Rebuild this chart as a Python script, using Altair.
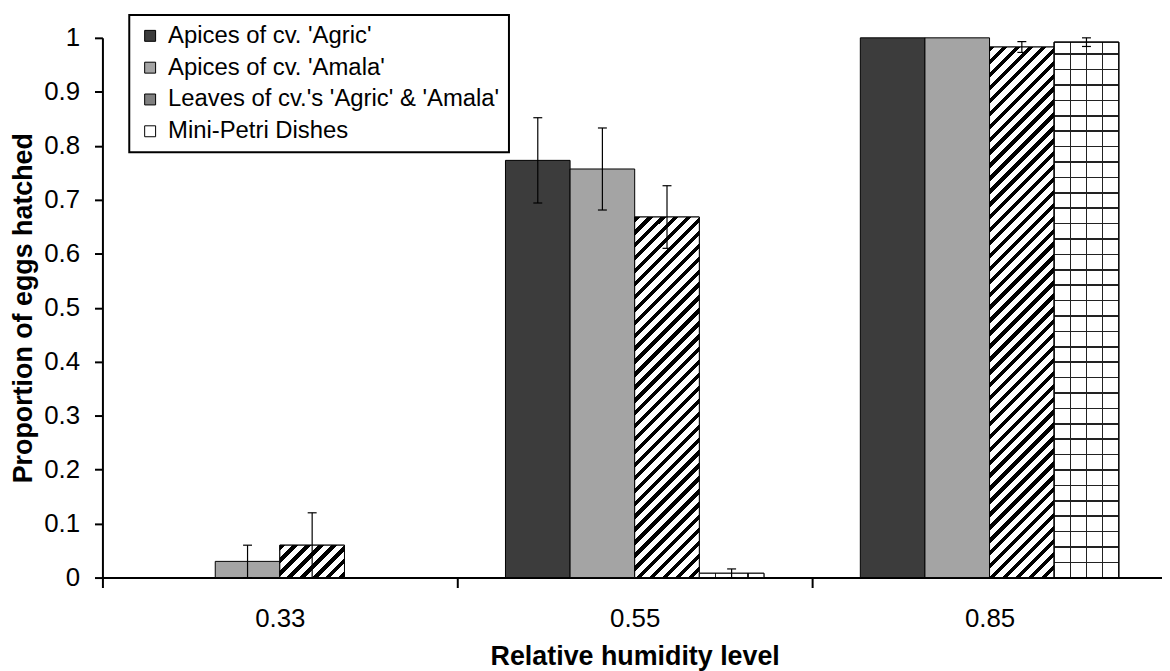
import math
import altair as alt
import pandas as pd

# ---------------- data ----------------
levels = ["0.33", "0.55", "0.85"]
series = [
    "Apices of cv. 'Agric'",
    "Apices of cv. 'Amala'",
    "Leaves of cv.'s 'Agric' & 'Amala'",
    "Mini-Petri Dishes",
]
agric = [0.0, 0.773, 1.0]
amala = [0.030, 0.757, 1.0]
leaves = [0.060, 0.668, 0.983]
mini = [0.0, 0.008, 0.992]
agric_err = [0.0, 0.079, 0.0]
amala_err = [0.030, 0.076, 0.0]
leaves_err = [0.060, 0.058, 0.010]
mini_err = [0.0, 0.008, 0.008]
y_ticks = [0, 0.1, 0.2, 0.3, 0.4, 0.5, 0.6, 0.7, 0.8, 0.9, 1]

values = [agric, amala, leaves, mini]
errors = [agric_err, amala_err, leaves_err, mini_err]
rows = []
for s, vals, errs in zip(series, values, errors):
    for lv, v, e in zip(levels, vals, errs):
        rows.append({"series": s, "level": lv, "value": v, "err": e,
                     "lo": max(v - e, 0), "hi": v + e})
df = pd.DataFrame(rows)

# ---------------- layout / style ----------------
FONT = "Liberation Sans"
PLOT_W = 1066
X_RANGE = 1071
PLOT_H = 543
BAR_W = X_RANGE / 3 / 5.4923
fills = ["#3c3c3c", "#a4a4a4", "#808080", "#ffffff"]

x_axis = alt.Axis(labelAngle=0, tickBand="extent", tickSize=10, labelPadding=18,
                  labelFontSize=26, titleFontSize=27, titlePadding=12)
y_axis = alt.Axis(values=y_ticks, format="~g", tickSize=8, labelPadding=15,
                  labelFontSize=26, titleFontSize=27, titlePadding=6)


def X():
    return alt.X("level:N", sort=levels,
                 scale=alt.Scale(domain=levels, range=[0, X_RANGE],
                                 paddingInner=0, paddingOuter=0),
                 axis=x_axis, title="Relative humidity level")


def XO():
    return alt.XOffset("series:N", sort=series,
                       scale=alt.Scale(domain=series, paddingInner=0, paddingOuter=0.746))


def Y(field):
    return alt.Y(field, type="quantitative",
                 scale=alt.Scale(domain=[0, 1], nice=False, zero=True),
                 axis=y_axis, title="Proportion of eggs hatched")


def r4(v):
    return round(v, 5)


def stripe_gradient(h):
    w = BAR_W
    L = w + h
    k = L / (w * w + h * h)
    period = 13.0
    dark = 0.42
    stops = []
    n = int(math.ceil(L / period))
    for i in range(n):
        a = min(i * period / L, 1)
        b = min((i + dark) * period / L, 1)
        c = min((i + 1) * period / L, 1)
        stops += [alt.GradientStop(offset=r4(a), color="#000000"),
                  alt.GradientStop(offset=r4(b), color="#000000"),
                  alt.GradientStop(offset=r4(b), color="#ffffff"),
                  alt.GradientStop(offset=r4(c), color="#ffffff")]
    return alt.LinearGradient(gradient="linear", stops=stops,
                              x1=0, y1=0, x2=r4(k * w), y2=r4(k * h))


def vgrid_gradient():
    w = BAR_W
    half = 0.8 / w
    stops = [alt.GradientStop(offset=0, color="#ffffff")]
    for f in [0.25, 0.5, 0.75]:
        stops += [alt.GradientStop(offset=r4(f - half), color="#ffffff"),
                  alt.GradientStop(offset=r4(f - half), color="#222222"),
                  alt.GradientStop(offset=r4(f + half), color="#222222"),
                  alt.GradientStop(offset=r4(f + half), color="#ffffff")]
    stops.append(alt.GradientStop(offset=1, color="#ffffff"))
    return alt.LinearGradient(gradient="linear", stops=stops, x1=0, y1=0, x2=1, y2=0)


def hgrid_gradient(h):
    half = 0.8 / h
    clear = "rgba(255,255,255,0)"
    stops = [alt.GradientStop(offset=0, color=clear)]
    p = 12.0
    while p < h - 3:
        f = p / h
        stops += [alt.GradientStop(offset=r4(f - half), color=clear),
                  alt.GradientStop(offset=r4(f - half), color="#222222"),
                  alt.GradientStop(offset=r4(f + half), color="#222222"),
                  alt.GradientStop(offset=r4(f + half), color=clear)]
        p += 15.5
    stops.append(alt.GradientStop(offset=1, color=clear))
    return alt.LinearGradient(gradient="linear", stops=stops, x1=0, y1=0, x2=0, y2=1)


base = alt.Chart(df)

bars = base.transform_filter(alt.datum.value > 0).mark_bar(
    stroke="black", strokeWidth=1, opacity=1
).encode(
    x=X(), xOffset=XO(), y=Y("value"),
    color=alt.Color("series:N", sort=series,
                    scale=alt.Scale(domain=series, range=fills),
                    legend=alt.Legend(
                        title=None, orient="none", legendX=27, legendY=-23,
                        direction="vertical", symbolType="square", symbolSize=121,
                        symbolStrokeColor="black", symbolStrokeWidth=1,
                        symbolOpacity=1,
                        labelFontSize=24, labelFont=FONT, labelColor="black",
                        labelLimit=600, labelOffset=6,
                        strokeColor="black", fillColor="white",
                        padding=9, rowPadding=8)),
)

layers = [bars]

# patterned overlays
leaves_name = series[2]
mini_name = series[3]
for lv, v in zip(levels, leaves):
    if v > 0:
        layers.append(
            base.transform_filter((alt.datum.series == leaves_name) & (alt.datum.level == lv))
            .mark_bar(fill=stripe_gradient(v * PLOT_H), stroke="black", strokeWidth=1)
            .encode(x=X(), xOffset=XO(), y=Y("value"))
        )
for lv, v in zip(levels, mini):
    if v > 0:
        layers.append(
            base.transform_filter((alt.datum.series == mini_name) & (alt.datum.level == lv))
            .mark_bar(fill=vgrid_gradient(), stroke="black", strokeWidth=1)
            .encode(x=X(), xOffset=XO(), y=Y("value"))
        )
        h = v * PLOT_H
        if h > 20:
            layers.append(
                base.transform_filter((alt.datum.series == mini_name) & (alt.datum.level == lv))
                .mark_bar(fill=hgrid_gradient(h), stroke="black", strokeWidth=1)
                .encode(x=X(), xOffset=XO(), y=Y("value"))
            )

err = base.transform_filter(alt.datum.err > 0)
layers.append(err.mark_rule(color="black", strokeWidth=1.2).encode(
    x=X(), xOffset=XO(), y=Y("lo"), y2="hi:Q"))
layers.append(err.mark_tick(color="black", size=9, thickness=1.2, opacity=1).encode(
    x=X(), xOffset=XO(), y=Y("hi")))
layers.append(err.mark_tick(color="black", size=9, thickness=1.2, opacity=1).encode(
    x=X(), xOffset=XO(), y=Y("lo")))

chart = alt.layer(*layers).properties(
    width=PLOT_W, height=PLOT_H,
    autosize=alt.AutoSizeParams(type="none"),
    padding={"left": 95, "top": 28, "right": 0, "bottom": 96},
    background="white",
).configure_view(stroke=None).configure_axis(
    labelFont=FONT, titleFont=FONT, labelColor="black", titleColor="black",
    titleFontWeight="bold", domainColor="black", domainWidth=2,
    tickColor="black", tickWidth=2, grid=False,
).configure_legend(strokeWidth=2)

chart.save("out.html", embed_options={"renderer": "svg", "actions": False})
